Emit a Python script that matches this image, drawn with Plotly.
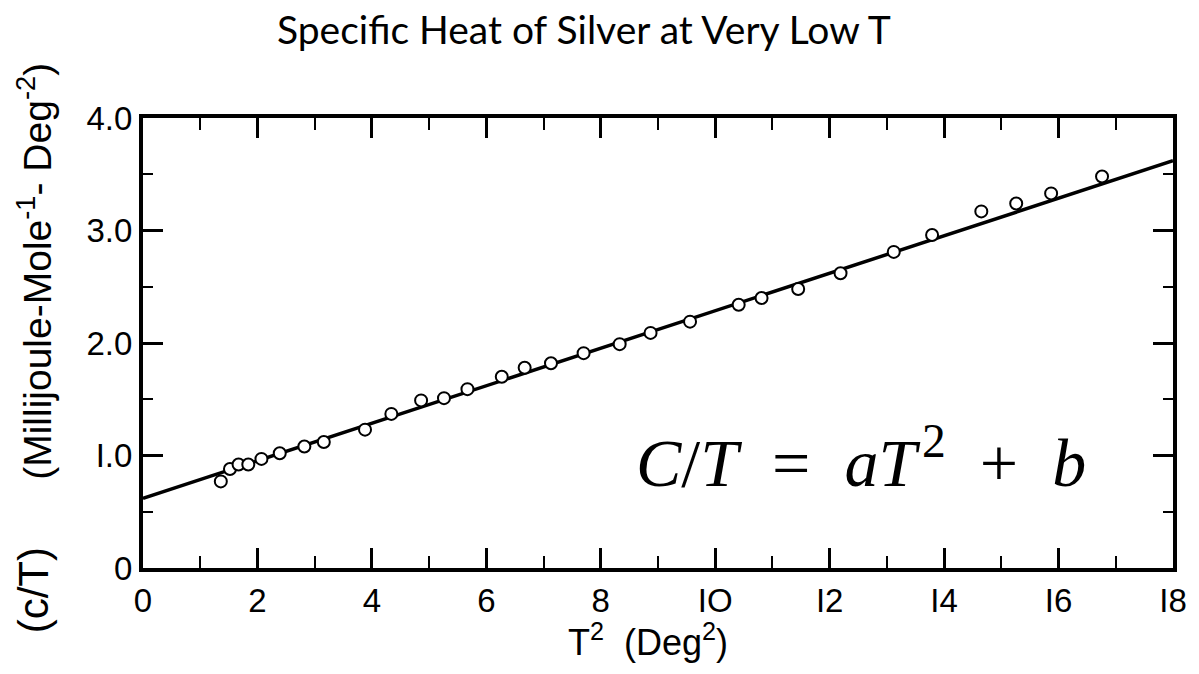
import plotly.graph_objects as go

# Measured data: T^2 (Deg^2) vs C/T (mJ mol^-1 K^-2)
t2 = [1.36, 1.52, 1.67, 1.84, 2.07, 2.39, 2.82, 3.16, 3.88, 4.34, 4.86, 5.26, 5.67,
      6.27, 6.67, 7.13, 7.70, 8.33, 8.87, 9.56, 10.41, 10.81, 11.45, 12.19, 13.12,
      13.79, 14.65, 15.26, 15.87, 16.76]
c_over_t = [0.77, 0.88, 0.92, 0.92, 0.97, 1.02, 1.08, 1.12, 1.23, 1.37, 1.49, 1.51, 1.59,
            1.70, 1.78, 1.82, 1.91, 1.99, 2.09, 2.19, 2.34, 2.40, 2.48, 2.62, 2.81,
            2.96, 3.17, 3.24, 3.33, 3.48]

# Fitted straight line endpoints
fit_x = [0, 18]
fit_y = [0.62, 3.62]

x_ticks = [0, 2, 4, 6, 8, 10, 12, 14, 16, 18]
x_tick_text = ["0", "2", "4", "6", "8", "IO", "I2", "I4", "I6", "I8"]
y_ticks = [0, 1, 2, 3, 4]
y_tick_text = ["0", "I.0", "2.0", "3.0", "4.0"]

narrow = "Liberation Sans Narrow, Liberation Sans, sans-serif"

fig = go.Figure()
fig.add_trace(go.Scatter(x=fit_x, y=fit_y, mode="lines",
                         line=dict(color="black", width=3.5), showlegend=False))
fig.add_trace(go.Scatter(x=t2, y=c_over_t, mode="markers",
                         marker=dict(symbol="circle", size=12, color="white",
                                     line=dict(color="black", width=2)),
                         showlegend=False))

axis_common = dict(showline=True, linecolor="black", linewidth=4, mirror="ticks",
                   ticks="inside", tickcolor="black", tickwidth=2.5, ticklen=20,
                   showgrid=False, zeroline=False,
                   tickfont=dict(family=narrow, size=33, color="black"))

fig.update_xaxes(range=[0, 18], tickvals=x_ticks, ticktext=x_tick_text,
                 minor=dict(dtick=1, tick0=0, ticks="inside", ticklen=12,
                            tickwidth=2, tickcolor="black"),
                 **axis_common)
fig.update_yaxes(range=[0, 4], tickvals=y_ticks, ticktext=y_tick_text,
                 minor=dict(dtick=0.5, tick0=0, ticks="inside", ticklen=10,
                            tickwidth=2, tickcolor="black"),
                 **axis_common)

fig.update_layout(
    width=1199, height=674,
    margin=dict(l=143, r=12, t=118, b=106),
    paper_bgcolor="white", plot_bgcolor="white",
    title=dict(text="Specific Heat of Silver at Very Low T", x=0.487, xanchor="center",
               y=0.955, yanchor="middle",
               font=dict(family="Lato, Open Sans, sans-serif", size=39, color="black")),
    annotations=[
        dict(text="<i>C</i>/<i>T</i>&nbsp; = &nbsp;<i>aT</i>&#8202;<sup>2</sup>&nbsp; + &nbsp;<i>b</i>",
             x=12.55, y=0.98, xref="x", yref="y", showarrow=False,
             xanchor="center", yanchor="middle",
             font=dict(family="Liberation Serif, serif", size=68, color="black")),
        dict(text="T<sup>2</sup>  (Deg<sup>2</sup>)", x=0.49, y=-0.16,
             xref="paper", yref="paper", showarrow=False,
             xanchor="center", yanchor="middle",
             font=dict(family=narrow, size=36, color="black")),
        dict(text="(Millijoule-Mole<sup>-1</sup>- Deg<sup>-2</sup>)", x=-0.106, y=0.66,
             xref="paper", yref="paper", showarrow=False, textangle=-90,
             xanchor="center", yanchor="middle",
             font=dict(family=narrow, size=39, color="black")),
        dict(text="(c/T)", x=-0.106, y=-0.05,
             xref="paper", yref="paper", showarrow=False, textangle=-90,
             xanchor="center", yanchor="middle",
             font=dict(family=narrow, size=42, color="black")),
    ],
)

fig.write_html("out.html", config={"displayModeBar": False},
               post_script="document.body.style.margin='0';document.body.style.padding='0';")
